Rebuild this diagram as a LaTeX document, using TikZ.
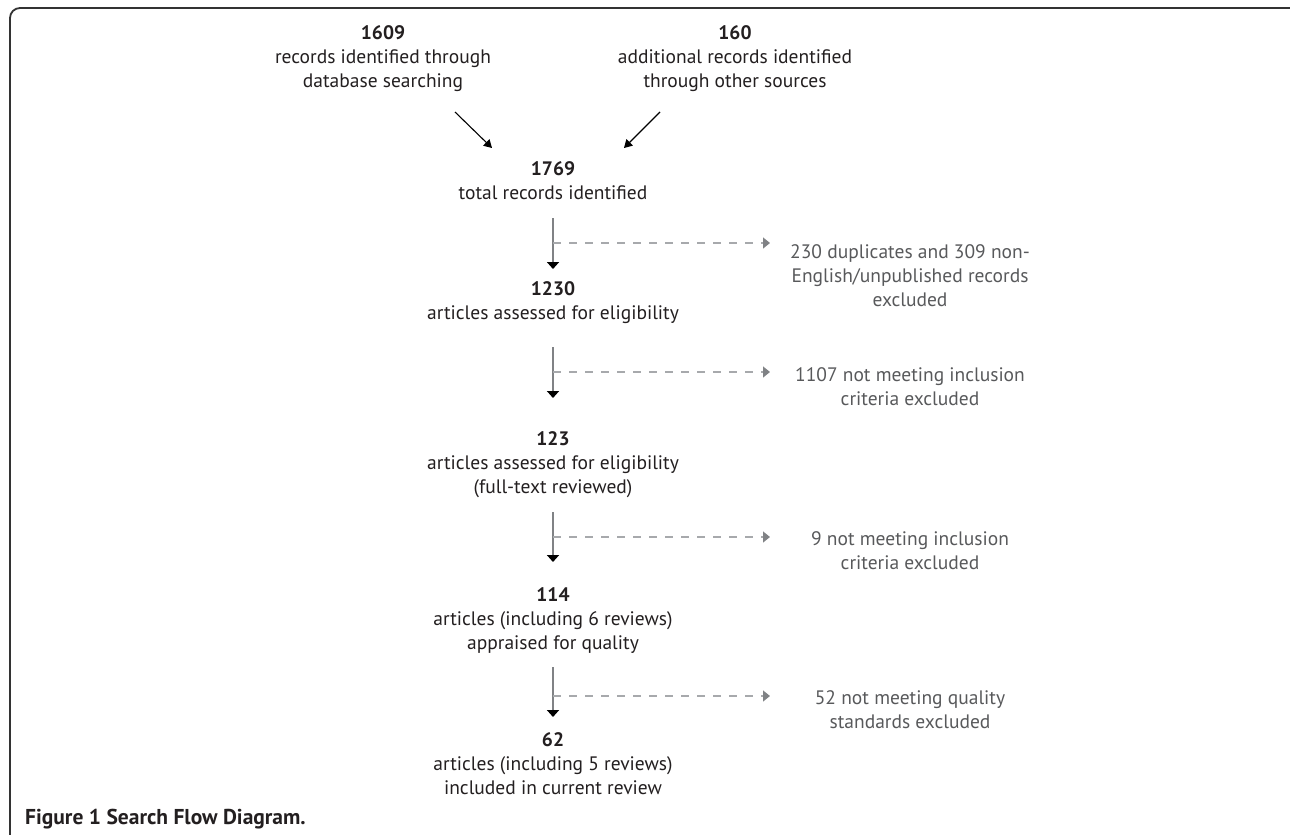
\documentclass[tikz,border=0pt]{standalone}
\usepackage{fontspec}
\setmainfont{PT Sans}
\usepackage{tikz}
\usetikzlibrary{arrows.meta}
\definecolor{ink}{HTML}{231F20}
\definecolor{greytext}{HTML}{58595B}
\definecolor{greyline}{HTML}{808285}
\definecolor{greydash}{HTML}{A7A9AC}
\tikzstyle{block} = [align=center, text=ink, inner sep=0pt,
    font=\fontsize{19.5}{24}\selectfont]
\tikzstyle{excl} = [align=center, text=greytext, inner sep=0pt,
    font=\fontsize{19.5}{24}\selectfont]
\tikzstyle{input} = [coordinate]
\tikzstyle{output} = [coordinate]
\tikzstyle{flow} = [draw=greyline, line width=1.8pt,
    -{Triangle[width=12pt,length=7pt,color=black]}]
\tikzstyle{feed} = [draw=black, line width=1.1pt,
    -{Triangle[width=9pt,length=8pt]}]
\tikzstyle{drop} = [draw=greydash, line width=1.3pt,
    dash pattern=on 8pt off 8pt,
    -{Triangle[width=11pt,length=7pt,color=greyline]}]
\tikzstyle{frame} = [draw=black!80, line width=1.8pt, rounded corners=10pt]

\begin{document}
\begin{tikzpicture}[auto, node distance=2cm]
    % % % % % % % % % % % % % % % % % % % % % % %
    % Canvas and frame
    % % % % % % % % % % % % % % % % % % % % % % %
    \useasboundingbox (0pt,0pt) rectangle (1290pt,-835pt);
    \coordinate (fbl) at (10pt,-835pt);
    \coordinate (ftr) at (1290pt,-8pt);
    \draw [frame] (fbl) |- (ftr);

    % % % % % % % % % % % % % % % % % % % % % % %
    % Identification
    % % % % % % % % % % % % % % % % % % % % % % %
    % total records
    \node [block] (total) at (553pt,-181pt)
        {\textbf{1769}\\total records identified};

    % the two sources
    \node [block, above of=total, node distance=122pt, xshift=-170pt] (db)
        {\textbf{1609}\\records identified through\\database searching};
    \node [block, above of=total, node distance=122pt, xshift=182pt] (other)
        {\textbf{160}\\additional records identified\\through other sources};

    % silent nodes for the slanted arrows
    \node [input, below of=db, node distance=53pt, xshift=72pt] (p1) {};
    \node [output, below of=p1, node distance=36pt, xshift=37pt] (q1) {};
    \node [input, below of=other, node distance=53pt, xshift=-75pt] (p2) {};
    \node [output, below of=p2, node distance=36pt, xshift=-36pt] (q2) {};

    \draw [feed] (p1) -- (q1);
    \draw [feed] (p2) -- (q2);

    % % % % % % % % % % % % % % % % % % % % % % %
    % Screening steps
    % % % % % % % % % % % % % % % % % % % % % % %
    % step 1
    \node [input, below of=total, node distance=37pt] (a1) {};
    \node [output, below of=a1, node distance=51pt] (b1) {};
    \node [input, below of=a1, node distance=25pt] (m1) {};
    \node [output, right of=m1, node distance=217pt] (d1) {};
    \node [excl, right of=m1, node distance=357pt, yshift=-33pt] (x1)
        {230 duplicates and 309 non-\\English/unpublished records\\excluded};
    \node [block, below of=b1, node distance=34pt] (assessed)
        {\textbf{1230}\\articles assessed for eligibility};

    % step 2
    \node [input, below of=assessed, node distance=44pt] (a2) {};
    \node [output, below of=a2, node distance=51pt] (b2) {};
    \node [input, below of=a2, node distance=25pt] (m2) {};
    \node [output, right of=m2, node distance=217pt] (d2) {};
    \node [excl, right of=m2, node distance=357pt, yshift=-15pt] (x2)
        {1107 not meeting inclusion\\criteria excluded};
    \node [block, below of=b2, node distance=67pt] (fulltext)
        {\textbf{123}\\articles assessed for eligibility\\(full-text reviewed)};

    % step 3
    \node [input, below of=fulltext, node distance=47pt] (a3) {};
    \node [output, below of=a3, node distance=50pt] (b3) {};
    \node [input, below of=a3, node distance=25pt] (m3) {};
    \node [output, right of=m3, node distance=217pt] (d3) {};
    \node [excl, right of=m3, node distance=357pt, yshift=-14pt] (x3)
        {9 not meeting inclusion\\criteria excluded};
    \node [block, below of=b3, node distance=59pt] (quality)
        {\textbf{114}\\articles (including 6 reviews)\\appraised for quality};

    % step 4
    \node [input, below of=quality, node distance=46pt] (a4) {};
    \node [output, below of=a4, node distance=50pt] (b4) {};
    \node [input, below of=a4, node distance=29pt] (m4) {};
    \node [output, right of=m4, node distance=217pt] (d4) {};
    \node [excl, right of=m4, node distance=357pt, yshift=-14pt] (x4)
        {52 not meeting quality\\standards excluded};
    \node [block, below of=b4, node distance=47pt] (included)
        {\textbf{62}\\articles (including 5 reviews)\\included in current review};

    % arrows
    \draw [flow] (a1) -- (b1);
    \draw [flow] (a2) -- (b2);
    \draw [flow] (a3) -- (b3);
    \draw [flow] (a4) -- (b4);
    \draw [drop] (m1) -- (d1);
    \draw [drop] (m2) -- (d2);
    \draw [drop] (m3) -- (d3);
    \draw [drop] (m4) -- (d4);

    % caption
    \node [anchor=west, text=ink, inner sep=0pt,
        font=\fontsize{21.5}{24}\selectfont\bfseries] (caption) at (25pt,-819pt)
        {Figure 1 Search Flow Diagram.};
\end{tikzpicture}
\end{document}
